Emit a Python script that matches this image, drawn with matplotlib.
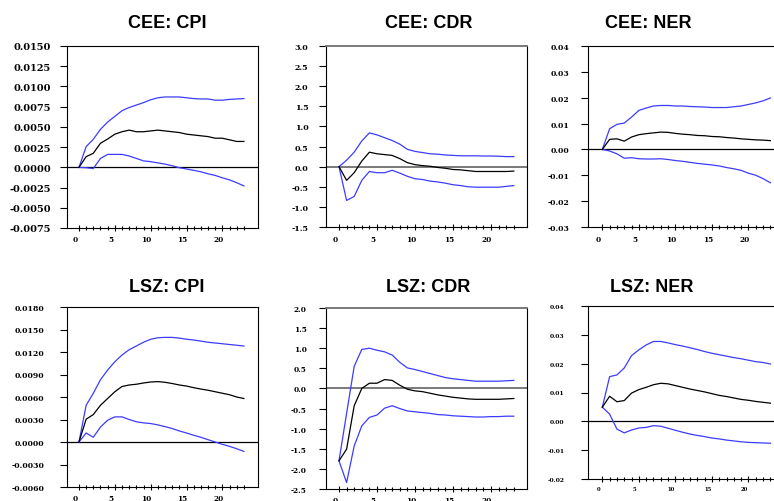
# Impulse responses: CEE and LSZ identification, 6 panels
import numpy as np
import matplotlib.pyplot as plt
from matplotlib.ticker import FixedLocator, FormatStrFormatter
from matplotlib.transforms import ScaledTranslation

plt.rcParams["font.family"] = "DejaVu Serif"
plt.rcParams["font.weight"] = "bold"

# horizon
periods = list(range(24))

# CEE: CPI
cee_cpi_mid = [0, 0.00132, 0.00174, 0.00298, 0.0035, 0.0041, 0.0044, 0.0046, 0.0044, 0.0044,
               0.0045, 0.0046, 0.0045, 0.0044, 0.0043, 0.0041, 0.0040, 0.0039, 0.0038, 0.0036,
               0.0036, 0.0034, 0.0032, 0.0032]
cee_cpi_up = [0, 0.00256, 0.00347, 0.0047, 0.0056, 0.0063, 0.0070, 0.0074, 0.0077, 0.0080,
              0.00835, 0.0086, 0.0087, 0.0087, 0.0087, 0.0086, 0.0085, 0.00845, 0.00845, 0.0083,
              0.0083, 0.0084, 0.00845, 0.0085]
cee_cpi_lo = [0, -0.00005, -0.00015, 0.0011, 0.0016, 0.0016, 0.0016, 0.0014, 0.0011, 0.0008,
              0.0007, 0.00055, 0.0004, 0.0002, -0.00005, -0.0002, -0.00037, -0.00055, -0.0008,
              -0.0010, -0.0013, -0.00155, -0.0019, -0.0023]

# CEE: CDR
cee_cdr_mid = [0, -0.34, -0.15, 0.14, 0.36, 0.32, 0.30, 0.28, 0.20, 0.10, 0.05, 0.025, 0.01,
               -0.02, -0.04, -0.07, -0.08, -0.10, -0.12, -0.12, -0.12, -0.12, -0.12, -0.11]
cee_cdr_up = [0, 0.16, 0.36, 0.64, 0.84, 0.79, 0.72, 0.65, 0.56, 0.43, 0.38, 0.35, 0.32, 0.31,
              0.29, 0.28, 0.27, 0.27, 0.27, 0.265, 0.265, 0.26, 0.25, 0.25]
cee_cdr_lo = [0, -0.84, -0.74, -0.34, -0.12, -0.15, -0.15, -0.09, -0.16, -0.24, -0.30, -0.32,
              -0.36, -0.38, -0.41, -0.45, -0.47, -0.50, -0.51, -0.51, -0.51, -0.51, -0.49, -0.47]

# CEE: NER
cee_ner_mid = [0, 0.0039, 0.0041, 0.0032, 0.0048, 0.0057, 0.0061, 0.0064, 0.0067, 0.0066,
               0.0062, 0.0059, 0.0057, 0.0054, 0.0053, 0.0050, 0.0049, 0.0046, 0.0044, 0.0041,
               0.0039, 0.0037, 0.0036, 0.0034]
cee_ner_up = [0, 0.0080, 0.0097, 0.0102, 0.0125, 0.0151, 0.0160, 0.0168, 0.0170, 0.0170,
              0.0168, 0.0168, 0.0166, 0.0165, 0.0164, 0.0162, 0.0162, 0.0162, 0.0165, 0.0168,
              0.0174, 0.0180, 0.0188, 0.0199]
cee_ner_lo = [0, -0.0006, -0.0017, -0.0034, -0.0032, -0.0036, -0.0037, -0.0037, -0.0036,
              -0.0039, -0.0043, -0.0046, -0.0050, -0.0054, -0.0057, -0.0060, -0.0064, -0.0070,
              -0.0075, -0.0081, -0.0092, -0.0100, -0.0113, -0.0129]

# LSZ: CPI
lsz_cpi_mid = [0, 0.00304, 0.00366, 0.0049, 0.0058, 0.0067, 0.0074, 0.0076, 0.0077, 0.00787,
               0.0080, 0.00805, 0.00796, 0.0078, 0.0076, 0.00746, 0.00724, 0.00706, 0.0069,
               0.0067, 0.0065, 0.0063, 0.0060, 0.0058]
lsz_cpi_up = [0, 0.0049, 0.0065, 0.0083, 0.0096, 0.0107, 0.0116, 0.0123, 0.0128, 0.0133,
              0.0137, 0.0139, 0.01395, 0.01395, 0.01385, 0.0137, 0.0136, 0.01345, 0.0133,
              0.0132, 0.0131, 0.0130, 0.0129, 0.0128]
lsz_cpi_lo = [0, 0.0012, 0.00063, 0.0020, 0.0029, 0.00335, 0.00335, 0.0030, 0.0027, 0.00255,
              0.00246, 0.00228, 0.00205, 0.0018, 0.00147, 0.0012, 0.0009, 0.00063, 0.00031,
              0.0, -0.00031, -0.00058, -0.0009, -0.00125]

# LSZ: CDR
lsz_cdr_mid = [-1.80, -1.51, -0.43, 0.0, 0.13, 0.13, 0.22, 0.20, 0.08, -0.02, -0.06, -0.08,
               -0.12, -0.16, -0.19, -0.22, -0.24, -0.26, -0.27, -0.27, -0.27, -0.27, -0.26, -0.25]
lsz_cdr_up = [-1.80, -0.62, 0.55, 0.97, 1.00, 0.95, 0.91, 0.83, 0.65, 0.51, 0.47, 0.42, 0.37,
              0.32, 0.27, 0.24, 0.22, 0.20, 0.18, 0.18, 0.18, 0.18, 0.19, 0.20]
lsz_cdr_lo = [-1.80, -2.34, -1.43, -0.93, -0.72, -0.66, -0.49, -0.43, -0.50, -0.56, -0.58,
              -0.60, -0.62, -0.65, -0.66, -0.68, -0.69, -0.70, -0.71, -0.71, -0.70, -0.70,
              -0.69, -0.69]

# LSZ: NER
lsz_ner_mid = [0.0049, 0.0087, 0.0068, 0.0072, 0.0098, 0.0110, 0.0118, 0.0127, 0.0132, 0.0130,
               0.0124, 0.0118, 0.0112, 0.0107, 0.0102, 0.0096, 0.0090, 0.0086, 0.0081, 0.0076,
               0.0073, 0.0069, 0.0066, 0.0063]
lsz_ner_up = [0.0049, 0.0155, 0.0161, 0.0185, 0.0228, 0.0248, 0.0265, 0.0277, 0.0277, 0.0272,
              0.0266, 0.0261, 0.0255, 0.0249, 0.0242, 0.0236, 0.0231, 0.0226, 0.0221, 0.0217,
              0.0212, 0.0207, 0.0204, 0.0199]
lsz_ner_lo = [0.0049, 0.0025, -0.0027, -0.0040, -0.0030, -0.0023, -0.0021, -0.0015, -0.0017,
              -0.0024, -0.0031, -0.0038, -0.0044, -0.0049, -0.0053, -0.0058, -0.0061, -0.0065,
              -0.0068, -0.0071, -0.0073, -0.0074, -0.0075, -0.0076]

titles = ["CEE: CPI", "CEE: CDR", "CEE: NER", "LSZ: CPI", "LSZ: CDR", "LSZ: NER"]
series = [
    (cee_cpi_mid, cee_cpi_up, cee_cpi_lo),
    (cee_cdr_mid, cee_cdr_up, cee_cdr_lo),
    (cee_ner_mid, cee_ner_up, cee_ner_lo),
    (lsz_cpi_mid, lsz_cpi_up, lsz_cpi_lo),
    (lsz_cdr_mid, lsz_cdr_up, lsz_cdr_lo),
    (lsz_ner_mid, lsz_ner_up, lsz_ner_lo),
]
y_limits = [(-0.0075, 0.0150), (-1.5, 3.0), (-0.03, 0.04),
            (-0.0060, 0.0180), (-2.5, 2.0), (-0.02, 0.04)]
y_nticks = [10, 10, 8, 9, 10, 7]
y_formats = ["%.4f", "%.1f", "%.2f", "%.4f", "%.1f", "%.2f"]

# layout in pixels: left, right, top, bottom, xmin, xmax
W, H = 774, 502
boxes = [
    (67, 258, 47, 229, -1.67, 24.97),
    (326, 527, 47, 228, -1.71, 24.74),
    (588, 785, 47, 228, -1.96, 25.0),
    (67, 258, 308, 488, -1.67, 24.97),
    (326, 527, 309, 490, -1.71, 24.74),
    (588, 785, 307, 480, -1.96, 25.0),
]
title_pos = [(167, 23), (429, 23), (648, 23), (167, 287), (428, 287), (652, 287)]
y_sizes = [7.0, 5.7, 5.5, 5.6, 5.3, 4.3]
y_gaps = [11.7, 12.5, 13.7, 16.3, 13.9, 16.8]
x_sizes = [5.3, 5.3, 5.3, 5.3, 5.3, 3.8]
zero_gray = [False, True, False, False, True, False]

blue = "#3c3cff"

fig = plt.figure(figsize=(W / 100, H / 100), dpi=100)
shift = ScaledTranslation(-4 / 100, 0, fig.dpi_scale_trans)

for i in range(6):
    left, right, top, bottom, xmin, xmax = boxes[i]
    ax = fig.add_axes([left / W, 1 - bottom / H, (right - left) / W, (bottom - top) / H])
    mid, up, lo = series[i]

    if zero_gray[i]:
        ax.axhline(0, color="#707070", lw=1.3, zorder=1)
        ax.spines["top"].set_color("#707070")
        ax.spines["top"].set_linewidth(1.3)
    else:
        ax.axhline(0, color="black", lw=0.9, zorder=1)

    ax.plot(periods, up, color=blue, lw=0.9)
    ax.plot(periods, lo, color=blue, lw=0.9)
    ax.plot(periods, mid, color="black", lw=0.9)

    ax.set_xlim(xmin, xmax)
    ax.set_ylim(*y_limits[i])
    ax.yaxis.set_major_locator(FixedLocator(np.linspace(*y_limits[i], y_nticks[i])))
    ax.yaxis.set_major_formatter(FormatStrFormatter(y_formats[i]))
    ax.xaxis.set_major_locator(FixedLocator([0, 5, 10, 15, 20]))
    ax.xaxis.set_minor_locator(FixedLocator(periods))

    for s in ["left", "bottom", "right"]:
        ax.spines[s].set_linewidth(0.8)
    if not zero_gray[i]:
        ax.spines["top"].set_linewidth(0.8)

    ax.tick_params(axis="y", direction="out", length=4.7, width=0.8,
                   pad=y_gaps[i] - 4.7, labelsize=y_sizes[i])
    ax.tick_params(axis="x", which="major", direction="inout", length=5, width=0.8,
                   pad=2.9, labelsize=x_sizes[i])
    ax.tick_params(axis="x", which="minor", direction="inout", length=3.5, width=0.8)
    for lab in ax.get_xticklabels():
        lab.set_transform(lab.get_transform() + shift)

    tx, ty = title_pos[i]
    fig.text(tx / W, 1 - ty / H, titles[i], ha="center", va="center", fontsize=13,
             fontweight="bold", family="Liberation Sans")

fig.savefig("out.png", dpi=100)
